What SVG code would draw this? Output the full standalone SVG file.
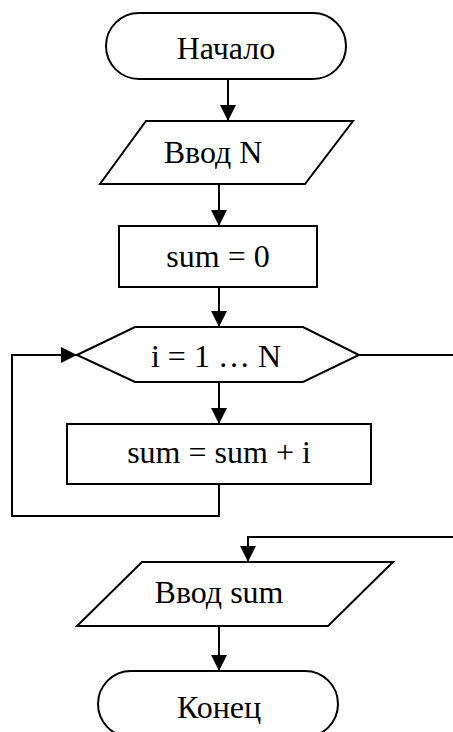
<svg xmlns="http://www.w3.org/2000/svg" width="453" height="732" viewBox="0 0 453 732">
<defs>
<style>
.s{fill:#fff;stroke:#000;stroke-width:2}
.t{font-family:"Liberation Serif","Times New Roman",serif;font-size:32px;fill:#000;text-anchor:middle}
.c{fill:none;stroke:#000;stroke-width:2}
</style>
<marker id="a" markerWidth="16" markerHeight="16" viewBox="0 0 16 16" refX="16" refY="8" orient="auto" markerUnits="userSpaceOnUse">
<path d="M0,0 L16,8 L0,16 Z" fill="#000"/>
</marker>
</defs>
<rect width="453" height="732" fill="#fff"/>
<g id="connectors">
<line class="c" x1="228" y1="79" x2="228" y2="121" marker-end="url(#a)"/>
<line class="c" x1="219" y1="184" x2="219" y2="226" marker-end="url(#a)"/>
<line class="c" x1="219" y1="287" x2="219" y2="327" marker-end="url(#a)"/>
<line class="c" x1="219" y1="382" x2="219" y2="424" marker-end="url(#a)"/>
<polyline class="c" points="219,484 219,516 12,516 12,355 77,355" marker-end="url(#a)"/>
<line class="c" x1="359" y1="355" x2="453" y2="355"/>
<polyline class="c" points="453,537 248,537 248,562" marker-end="url(#a)"/>
<line class="c" x1="219" y1="626" x2="219" y2="671" marker-end="url(#a)"/>
</g>
<g id="start">
<rect class="s" x="106" y="13" width="240" height="66" rx="33" ry="33"/>
<text class="t" x="226" y="59">Начало</text>
</g>
<g id="inputN">
<polygon class="s" points="146,121 353,121 305,184 100,184"/>
<text class="t" x="213" y="163">Ввод N</text>
</g>
<g id="init">
<rect class="s" x="119" y="226" width="198" height="61"/>
<text class="t" x="218" y="267">sum = 0</text>
</g>
<g id="loop">
<polygon class="s" points="77,355 135,327 303,327 359,355 303,382 135,382"/>
<text class="t" x="216" y="367">i = 1 … N</text>
</g>
<g id="body">
<rect class="s" x="67" y="424" width="304" height="60"/>
<text class="t" x="219" y="463">sum = sum + i</text>
</g>
<g id="outputSum">
<polygon class="s" points="142,562 393,562 328,626 77,626"/>
<text class="t" x="219" y="603">Ввод sum</text>
</g>
<g id="end">
<rect class="s" x="98" y="671" width="240" height="66" rx="33" ry="33"/>
<text class="t" x="219" y="718">Конец</text>
</g>
</svg>
